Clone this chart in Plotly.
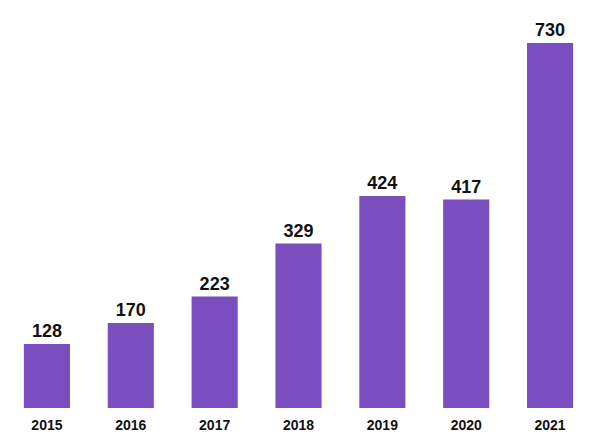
import plotly.graph_objects as go

years = ["2015", "2016", "2017", "2018", "2019", "2020", "2021"]
values = [128, 170, 223, 329, 424, 417, 730]

fig = go.Figure(go.Bar(
    x=years, y=values,
    marker=dict(color="#7b4ec0", line=dict(width=0)),
    width=0.55,
    text=[str(v) for v in values],
    textposition="outside",
    textfont=dict(family="Liberation Sans, Arial", size=18, color="#111111"),
    cliponaxis=False,
))
fig.update_layout(
    width=600, height=447,
    margin=dict(l=5, r=8, t=0, b=39),
    paper_bgcolor="white", plot_bgcolor="white",
    showlegend=False,
    bargap=0.45,
    xaxis=dict(showgrid=False, showline=False, zeroline=False, ticks="",
               tickfont=dict(family="Liberation Sans, Arial", size=14, color="#111111"),
               range=[-0.5, 6.5], ticklabelstandoff=7),
    yaxis=dict(range=[0, 816], visible=False, showgrid=False),
    font=dict(family="Liberation Sans, Arial"),
)
fig.update_traces(texttemplate="<b>%{text}</b>")
fig.update_xaxes(ticktext=["<b>%s</b>" % y for y in years], tickvals=years)
fig.write_html("out.html")
